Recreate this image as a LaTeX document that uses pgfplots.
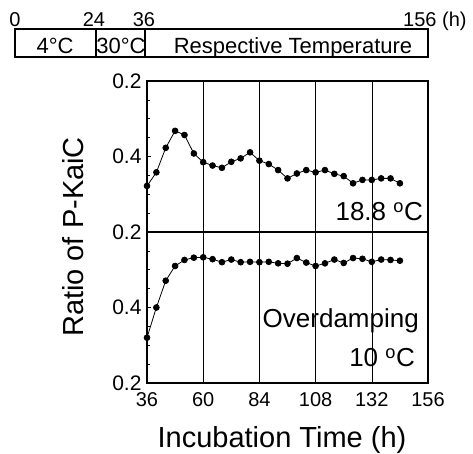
\documentclass[border=0pt]{standalone}
\usepackage{fontspec}
\setmainfont{Liberation Sans}
\usepackage{pgfplots}
\usepackage{pgfplotstable}
\pgfplotsset{compat=1.18}

\pgfplotstableread{
t v
36 0.322
40 0.358
44 0.423
48 0.468
52 0.457
56 0.408
60 0.385
64 0.376
68 0.370
72 0.386
76 0.395
80 0.411
84 0.389
88 0.380
92 0.364
96 0.342
100 0.355
104 0.364
108 0.358
112 0.364
116 0.354
120 0.348
124 0.329
128 0.338
132 0.338
136 0.342
140 0.342
144 0.329
}\upperdata

\pgfplotstableread{
t v
36 0.320
40 0.400
44 0.471
48 0.510
52 0.526
56 0.532
60 0.533
64 0.528
68 0.520
72 0.527
76 0.520
80 0.521
84 0.520
88 0.521
92 0.517
96 0.516
100 0.531
104 0.519
108 0.510
112 0.517
116 0.527
120 0.518
124 0.531
128 0.529
132 0.521
136 0.527
140 0.526
144 0.524
}\lowerdata

\pgfplotsset{
  panel/.style={
    scale only axis, width=281bp, height=151bp,
    xmin=36, xmax=156, ymin=0.2, ymax=0.6,
    xtick={36,60,...,156},
    xtick style={draw=none},
    xmajorgrids,
    major x grid style={black, line width=0.6pt},
    ytick={0.2,0.4,0.6},
    minor ytick={0.25,0.3,0.35,0.45,0.5,0.55},
    ytick pos=left,
    tick align=inside,
    major tick length=4bp, minor tick length=3bp,
    axis line style={line width=1.2pt},
    every tick/.style={black, line width=0.6pt},
    /pgf/number format/assume math mode=true,
    tick label style={font=\fontsize{21bp}{24bp}\selectfont},
    yticklabel style={xshift=-2bp},
  },
  dat/.style={black, line width=0.8pt, mark=*, mark size=2.9pt, mark options={fill=black}},
}

\begin{document}
\begin{tikzpicture}
\useasboundingbox (0,0) rectangle (473bp,454bp);

\begin{axis}[panel, at={(147bp,222bp)}, anchor=south west,
  xticklabels={}, yticklabels={,0.4,0.2}]
\addplot[dat] table[x=t, y=v] {\upperdata};
\end{axis}

\begin{axis}[panel, at={(147bp,71bp)}, anchor=south west,
  xticklabels={36,60,84,108,132,156}, yticklabels={0.2,0.4,0.2},
  xticklabel style={font=\fontsize{20bp}{24bp}\selectfont, yshift=-6bp}]
\addplot[dat] table[x=t, y=v] {\lowerdata};
\end{axis}

% in-panel labels
\node[anchor=base east, inner sep=0, font=\fontsize{26bp}{30bp}\selectfont] at (423bp,233bp) {18.8 \textsuperscript{o}C};
\node[anchor=base east, inner sep=0, font=\fontsize{26bp}{30bp}\selectfont] at (419bp,126bp) {Overdamping};
\node[anchor=base east, inner sep=0, font=\fontsize{26bp}{30bp}\selectfont] at (415bp,87bp) {10 \textsuperscript{o}C};

% axis labels
\node[rotate=90, anchor=base, inner sep=0, font=\fontsize{29bp}{32bp}\selectfont] at (83bp,217bp) {Ratio of P-KaiC};
\node[anchor=base, inner sep=0, font=\fontsize{29bp}{32bp}\selectfont] at (282bp,7bp) {Incubation Time (h)};

% top schedule bar
\draw[line width=1.2pt] (15bp,397bp) rectangle (428bp,425bp);
\draw[line width=1.2pt] (96bp,397bp) -- (96bp,425bp);
\draw[line width=1.2pt] (145bp,397bp) -- (145bp,425bp);
\begin{scope}[every node/.style={inner sep=0, font=\fontsize{22bp}{25bp}\selectfont}]
\node[anchor=base] at (55bp,400bp) {4°C};
\node[anchor=base] at (121bp,400bp) {30°C};
\node[anchor=base] at (293bp,400bp) {Respective Temperature};
\end{scope}
\begin{scope}[every node/.style={inner sep=0, font=\fontsize{20bp}{24bp}\selectfont}]
\node[anchor=base] at (15bp,427bp) {0};
\node[anchor=base] at (94bp,427bp) {24};
\node[anchor=base] at (144bp,427bp) {36};
\node[anchor=base west] at (403bp,427bp) {156 (h)};
\end{scope}
\end{tikzpicture}
\end{document}
